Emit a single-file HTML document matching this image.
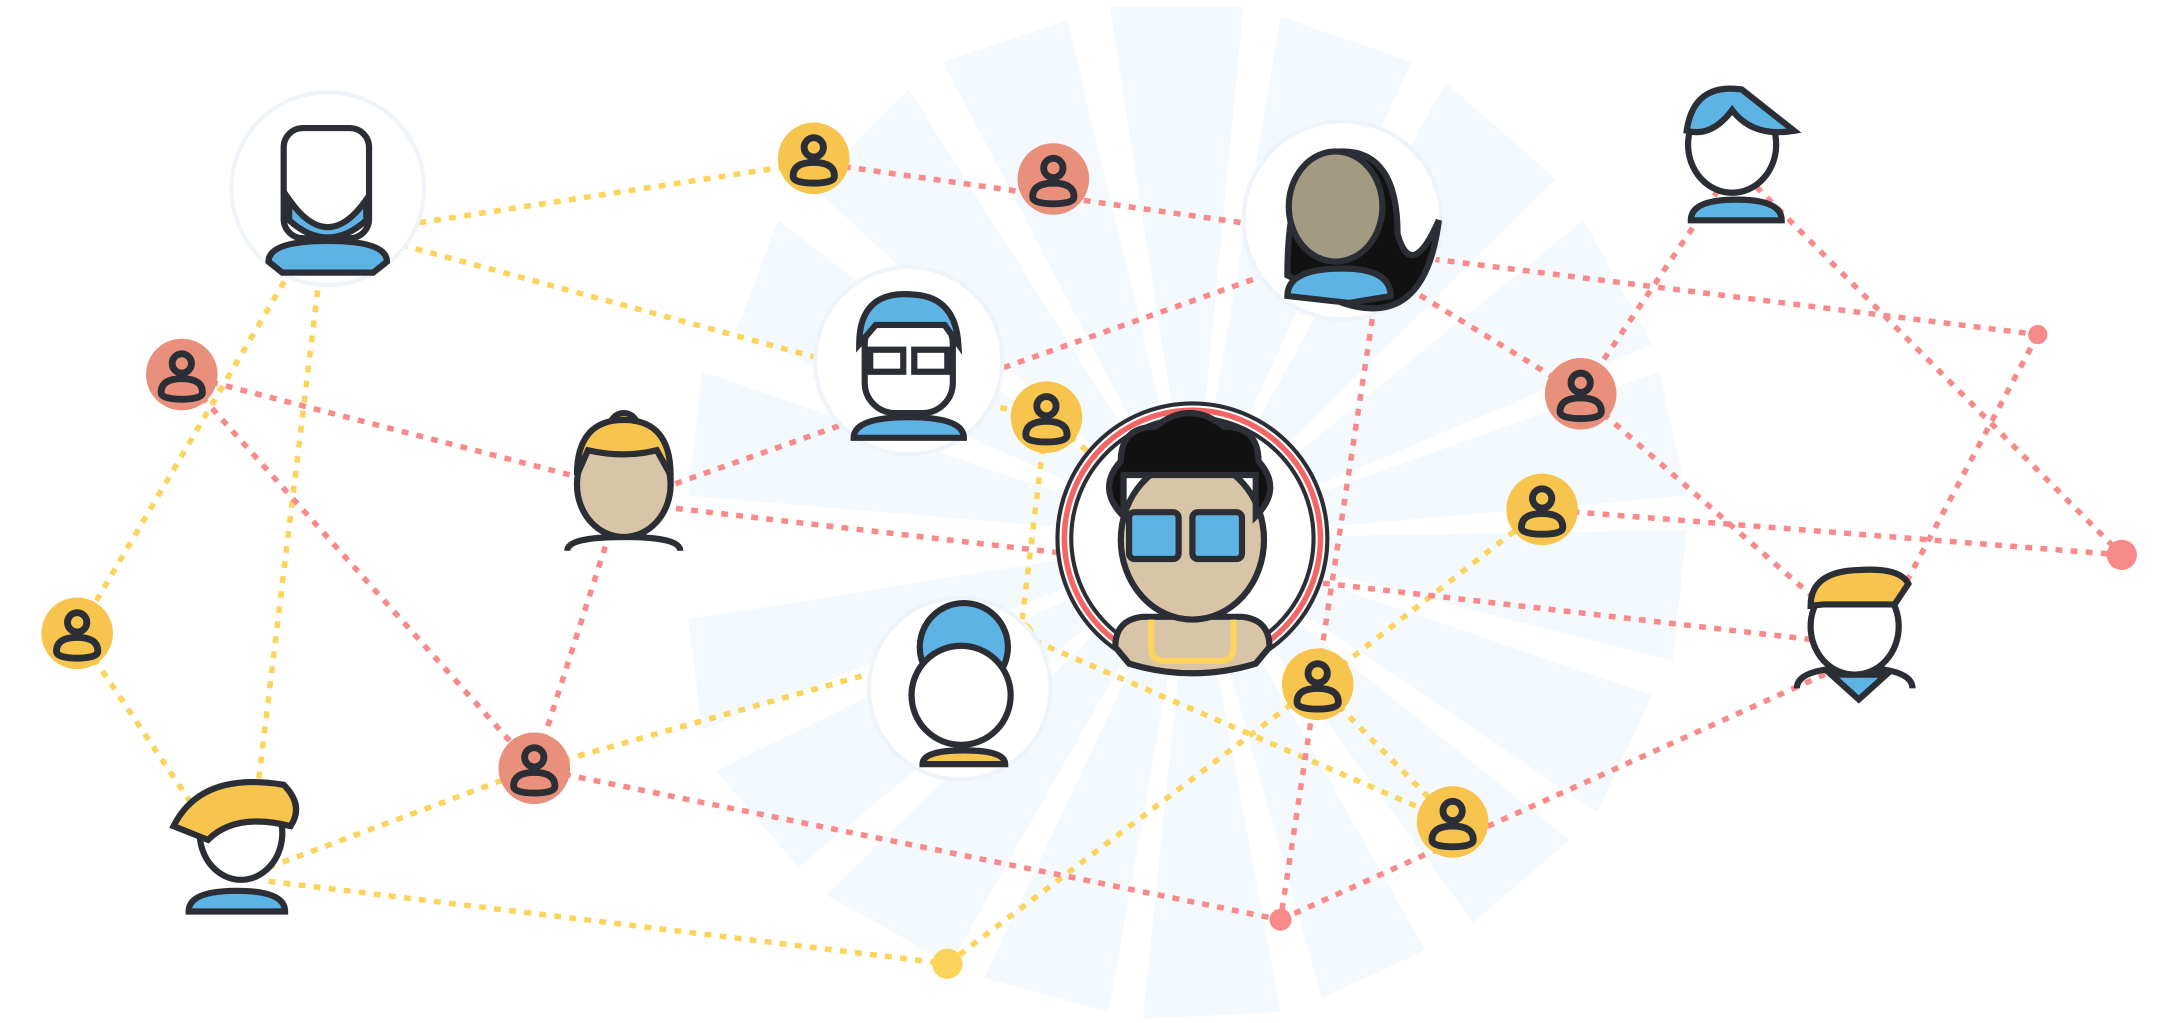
<!DOCTYPE html>
<html><head><meta charset="utf-8"><style>html,body{margin:0;padding:0;background:#fff;overflow:hidden}svg{display:block}</style></head>
<body>
<svg width="2159" height="1023" viewBox="0 0 1568 743" xmlns="http://www.w3.org/2000/svg">
<defs>
<symbol id="u" viewBox="-26 -26 52 52"><path d="M-7,-8 a7,7 0 1,0 14,0 a7,7 0 1,0 -14,0 M-15,13 q0,-10 15,-10 q15,0 15,10 q0,5 -15,5 q-15,0 -15,-5z" fill="none" stroke="#2b2e34" stroke-width="5"/></symbol>
</defs>
<g fill="#f4f9fd">
<polygon points="866,391 806,5 903,5"/>
<polygon points="866,391 930,12 1025,45"/>
<polygon points="866,391 1050,60 1130,130"/>
<polygon points="866,391 1150,160 1200,250"/>
<polygon points="866,391 1205,270 1225,360"/>
<polygon points="866,391 1225,385 1215,480"/>
<polygon points="866,391 1200,505 1160,590"/>
<polygon points="866,391 1140,610 1070,670"/>
<polygon points="866,391 1035,690 960,725"/>
<polygon points="866,391 930,735 830,740"/>
<polygon points="866,391 805,735 715,710"/>
<polygon points="866,391 690,700 600,650"/>
<polygon points="866,391 580,630 520,560"/>
<polygon points="866,391 510,530 500,450"/>
<polygon points="866,391 500,360 510,270"/>
<polygon points="866,391 535,240 565,160"/>
<polygon points="866,391 590,135 660,65"/>
<polygon points="866,391 685,45 775,15"/>
</g>
<g fill="none" stroke="#fcd45c" stroke-width="4" stroke-dasharray="5,6">
<line x1="250" y1="170" x2="591" y2="118"/>
<line x1="270" y1="172" x2="760" y2="305"/>
<line x1="212" y1="195" x2="56" y2="460"/>
<line x1="232" y1="200" x2="185" y2="590"/>
<line x1="56" y1="460" x2="150" y2="600"/>
<line x1="760" y1="303" x2="741" y2="461"/>
<line x1="741" y1="461" x2="1055" y2="597"/>
<line x1="388" y1="558" x2="700" y2="470"/>
<line x1="195" y1="630" x2="388" y2="558"/>
<line x1="195" y1="640" x2="688" y2="700"/>
<line x1="688" y1="700" x2="957" y2="497"/>
<line x1="957" y1="497" x2="1120" y2="370"/>
<line x1="957" y1="497" x2="1055" y2="597"/>
<line x1="760" y1="303" x2="866" y2="391"/>
</g>
<g fill="none" stroke="#f98a8a" stroke-width="4" stroke-dasharray="5,6">
<line x1="591" y1="118" x2="975" y2="172"/>
<line x1="975" y1="180" x2="1480" y2="243"/>
<line x1="1480" y1="243" x2="1370" y2="450"/>
<line x1="1260" y1="120" x2="1541" y2="403"/>
<line x1="1260" y1="120" x2="1148" y2="286"/>
<line x1="975" y1="180" x2="1148" y2="286"/>
<line x1="1148" y1="286" x2="1347" y2="460"/>
<line x1="1120" y1="370" x2="1541" y2="403"/>
<line x1="132" y1="272" x2="453" y2="355"/>
<line x1="132" y1="272" x2="388" y2="558"/>
<line x1="453" y1="355" x2="388" y2="558"/>
<line x1="480" y1="355" x2="975" y2="180"/>
<line x1="480" y1="368" x2="1320" y2="465"/>
<line x1="388" y1="558" x2="930" y2="668"/>
<line x1="930" y1="668" x2="1347" y2="480"/>
<line x1="1000" y1="210" x2="930" y2="668"/>
</g>
<circle cx="1480" cy="243" r="7" fill="#f98a8a"/>
<circle cx="1541" cy="403" r="11" fill="#f98a8a"/>
<circle cx="930" cy="668" r="8" fill="#f98a8a"/>
<circle cx="688" cy="700" r="11" fill="#fcd45c"/>
<circle cx="741" cy="461" r="10" fill="#fcd45c"/>
<g>
<circle cx="591" cy="115" r="26" fill="#f7c44d"/><use href="#u" x="565" y="89" width="52" height="52"/>
<circle cx="56" cy="460" r="26" fill="#f7c44d"/><use href="#u" x="30" y="434" width="52" height="52"/>
<circle cx="760" cy="303" r="26" fill="#f7c44d"/><use href="#u" x="734" y="277" width="52" height="52"/>
<circle cx="1120" cy="370" r="26" fill="#f7c44d"/><use href="#u" x="1094" y="344" width="52" height="52"/>
<circle cx="957" cy="497" r="26" fill="#f7c44d"/><use href="#u" x="931" y="471" width="52" height="52"/>
<circle cx="1055" cy="597" r="26" fill="#f7c44d"/><use href="#u" x="1029" y="571" width="52" height="52"/>
<circle cx="765" cy="130" r="26" fill="#e8907c"/><use href="#u" x="739" y="104" width="52" height="52"/>
<circle cx="132" cy="272" r="26" fill="#e8907c"/><use href="#u" x="106" y="246" width="52" height="52"/>
<circle cx="1148" cy="286" r="26" fill="#e8907c"/><use href="#u" x="1122" y="260" width="52" height="52"/>
<circle cx="388" cy="558" r="26" fill="#e8907c"/><use href="#u" x="362" y="532" width="52" height="52"/>
</g>
<g stroke="#2b2e34" stroke-width="4.5">
<circle cx="238" cy="137" r="70" fill="#fff" stroke="#eef4f9" stroke-width="3"/>
<path d="M195,190 q0,-15 43,-15 q43,0 43,15 l-10,8 h-66z" fill="#5db3e4"/>
<rect x="206" y="93" width="62" height="80" rx="14" fill="#fff"/>
<path d="M210,145 q28,40 56,0 v15 q-28,25 -56,0z" fill="#5db3e4"/>
<circle cx="660" cy="262" r="68" fill="#fff" stroke="#eef4f9" stroke-width="3"/>
<path d="M620,318 q0,-15 40,-15 q40,0 40,15z" fill="#5db3e4"/>
<rect x="628" y="228" width="64" height="72" rx="22" fill="#fff"/>
<path d="M624,250 q0,-40 40,-36 q30,2 32,36 l-10,-14 h-50z" fill="#5db3e4"/>
<rect x="632" y="254" width="24" height="16" fill="#fff"/><rect x="664" y="254" width="24" height="16" fill="#fff"/>
<circle cx="975" cy="160" r="72" fill="#fff" stroke="#eef4f9" stroke-width="3"/>
<path d="M935,200 q0,-90 40,-90 q40,0 40,60 q10,35 30,-10 q-10,80 -70,60z" fill="#111"/>
<path d="M935,215 q0,-20 40,-20 q35,0 35,20 l-30,5z" fill="#5db3e4"/>
<ellipse cx="970" cy="150" rx="34" ry="40" fill="#a39a82"/>
<circle cx="453" cy="310" r="10" fill="#f7c44d"/>
<path d="M412,400 q0,-10 41,-10 q41,0 41,10" fill="none"/>
<ellipse cx="453" cy="352" rx="34" ry="38" fill="#d8c5a8"/>
<path d="M419,345 q0,-40 34,-40 q34,0 34,40 l-10,-18 q-24,6 -50,0z" fill="#f7c44d"/>
<circle cx="697" cy="500" r="66" fill="#fff" stroke="#eef4f9" stroke-width="3"/>
<circle cx="700" cy="470" r="32" fill="#5db3e4"/>
<path d="M670,555 q0,-10 30,-10 q30,0 30,10z" fill="#f7c44d"/>
<circle cx="698" cy="505" r="36" fill="#fff"/>
<path d="M137,662 q0,-15 35,-15 q35,0 35,15z" fill="#5db3e4"/>
<ellipse cx="175" cy="605" rx="30" ry="34" fill="#fff"/>
<path d="M126,600 q20,-40 80,-30 q15,15 5,30 q-40,-10 -60,10z" fill="#f7c44d"/>
<path d="M1228,160 q0,-15 33,-15 q33,0 33,15z" fill="#5db3e4"/>
<ellipse cx="1258" cy="105" rx="32" ry="35" fill="#fff"/>
<path d="M1225,95 q5,-35 40,-30 l38,30 q-30,5 -45,-15 q-15,20 -33,15z" fill="#5db3e4"/>
<path d="M1305,500 q0,-15 42,-15 q42,0 42,15" fill="none"/>
<path d="M1330,490 l20,18 l20,-18z" fill="#5db3e4"/>
<ellipse cx="1347" cy="455" rx="32" ry="35" fill="#fff"/>
<path d="M1315,440 q0,-25 35,-26 q30,-2 36,10 l-10,15 h-52z" fill="#f7c44d"/>
<circle cx="866" cy="391" r="98" fill="#fff" stroke="#2b2e34" stroke-width="3"/>
<circle cx="866" cy="391" r="93" fill="none" stroke="#f66566" stroke-width="4"/>
<circle cx="866" cy="391" r="88" fill="none" stroke="#2b2e34" stroke-width="3"/>
<path d="M810,470 q0,-20 20,-22 h72 q20,2 20,22 l-10,12 q-46,14 -92,0z" fill="#d8c5a8"/>
<path d="M836,450 v20 q0,10 10,10 h40 q10,0 10,-10 v-20" fill="none" stroke="#fcd45c"/>
<ellipse cx="866" cy="392" rx="52" ry="58" fill="#d8c5a8"/>
<path d="M816,375 q-20,-20 -2,-40 q0,-25 25,-25 q25,-20 50,0 q25,0 25,25 q18,20 -2,40 v-30 h-96z" fill="#111"/>
<rect x="820" y="372" width="36" height="34" rx="4" fill="#5db3e4"/>
<rect x="866" y="372" width="36" height="34" rx="4" fill="#5db3e4"/>
</g>
</svg>
</body></html>
